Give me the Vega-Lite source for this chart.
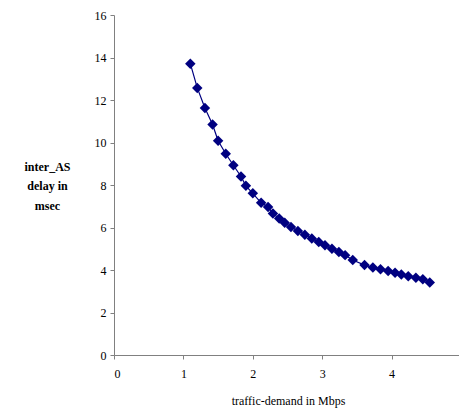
{
  "$schema": "https://vega.github.io/schema/vega-lite/v6.json",
  "autosize": {"type": "none"},
  "padding": {"left": 114, "top": 15, "right": 0, "bottom": 57},
  "width": 347,
  "height": 340,
  "background": "white",
  "config": {
    "view": {"stroke": null},
    "axis": {
      "grid": false,
      "domainColor": "#808080",
      "tickColor": "#808080",
      "labelFont": "Liberation Serif",
      "labelFontSize": 12,
      "labelColor": "black",
      "titleFont": "Liberation Serif",
      "titleColor": "black"
    }
  },
  "data": {
    "values": [
      {"demand": 1.10, "delay": 13.71},
      {"demand": 1.20, "delay": 12.57},
      {"demand": 1.31, "delay": 11.62},
      {"demand": 1.42, "delay": 10.85},
      {"demand": 1.50, "delay": 10.08},
      {"demand": 1.61, "delay": 9.47},
      {"demand": 1.72, "delay": 8.93},
      {"demand": 1.83, "delay": 8.40},
      {"demand": 1.90, "delay": 7.96},
      {"demand": 2.00, "delay": 7.61},
      {"demand": 2.12, "delay": 7.16},
      {"demand": 2.22, "delay": 6.97},
      {"demand": 2.29, "delay": 6.66},
      {"demand": 2.38, "delay": 6.42},
      {"demand": 2.46, "delay": 6.22},
      {"demand": 2.55, "delay": 6.02},
      {"demand": 2.65, "delay": 5.84},
      {"demand": 2.75, "delay": 5.66},
      {"demand": 2.85, "delay": 5.48},
      {"demand": 2.95, "delay": 5.32},
      {"demand": 3.04, "delay": 5.16},
      {"demand": 3.14, "delay": 5.00},
      {"demand": 3.24, "delay": 4.85},
      {"demand": 3.33, "delay": 4.70},
      {"demand": 3.44, "delay": 4.47},
      {"demand": 3.61, "delay": 4.23},
      {"demand": 3.73, "delay": 4.12},
      {"demand": 3.84, "delay": 4.03},
      {"demand": 3.95, "delay": 3.95},
      {"demand": 4.05, "delay": 3.87},
      {"demand": 4.14, "delay": 3.79},
      {"demand": 4.24, "delay": 3.71},
      {"demand": 4.35, "delay": 3.63},
      {"demand": 4.45, "delay": 3.56},
      {"demand": 4.55, "delay": 3.41}
    ]
  },
  "encoding": {
    "x": {
      "field": "demand",
      "type": "quantitative",
      "scale": {"domain": [0, 5], "nice": false, "zero": true},
      "axis": {
        "values": [0, 1, 2, 3, 4],
        "tickSize": 4,
        "labelPadding": 9,
        "title": "traffic-demand in Mbps",
        "titleFontSize": 12,
        "titleFontWeight": "normal",
        "titlePadding": 16,
        "titleX": 174
      }
    },
    "y": {
      "field": "delay",
      "type": "quantitative",
      "scale": {"domain": [0, 16], "nice": false},
      "axis": {
        "values": [0, 2, 4, 6, 8, 10, 12, 14, 16],
        "tickSize": 4,
        "labelPadding": 4,
        "title": ["inter_AS", "delay in", "msec"],
        "titleFontSize": 12,
        "titleFontWeight": "bold",
        "titleAngle": 0,
        "titleAlign": "center",
        "titleBaseline": "middle",
        "titleLineHeight": 19.5,
        "titleX": -67,
        "titleY": 151
      }
    }
  },
  "layer": [
    {"mark": {"type": "line", "color": "#000080", "strokeWidth": 1.2}},
    {"mark": {"type": "point", "shape": "diamond", "filled": true, "color": "#000080", "opacity": 1, "size": 110}}
  ]
}
